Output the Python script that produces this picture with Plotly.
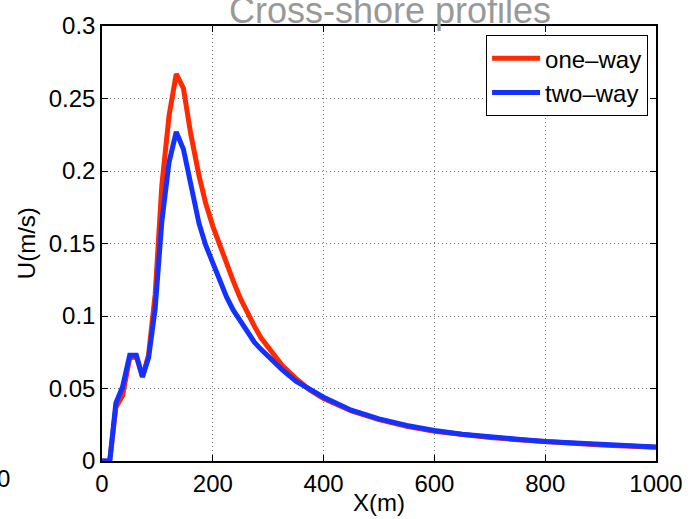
import plotly.graph_objects as go

# Cross-shore distance (m)
x_m = [0, 14, 25, 37, 50, 62, 73, 84, 96, 108, 121, 134, 147, 160, 175, 187,
       200, 212, 225, 237, 250, 262, 275, 287, 300, 325, 350, 375, 400, 450,
       500, 550, 600, 650, 700, 750, 800, 900, 1000]

# Velocity U (m/s), one-way coupling
u_one_way = [0, 0, 0.037, 0.045, 0.071, 0.072, 0.058, 0.073, 0.115, 0.190,
             0.238, 0.267, 0.257, 0.226, 0.197, 0.178, 0.162, 0.149, 0.136,
             0.124, 0.112, 0.102, 0.093, 0.085, 0.078, 0.066, 0.057, 0.049,
             0.043, 0.0345, 0.0285, 0.024, 0.0205, 0.018, 0.0162, 0.0147,
             0.0132, 0.011, 0.0094]

# Velocity U (m/s), two-way coupling
u_two_way = [0, 0, 0.040, 0.051, 0.073, 0.073, 0.058, 0.071, 0.105, 0.165,
             0.206, 0.227, 0.215, 0.190, 0.164, 0.149, 0.136, 0.124, 0.113,
             0.104, 0.096, 0.089, 0.082, 0.077, 0.072, 0.063, 0.055, 0.049,
             0.044, 0.035, 0.029, 0.0245, 0.021, 0.0185, 0.0165, 0.015,
             0.0135, 0.0113, 0.0097]

x_ticks = [0, 200, 400, 600, 800, 1000]
y_ticks = [0, 0.05, 0.1, 0.15, 0.2, 0.25, 0.3]
y_tick_labels = ["0", "0.05", "0.1", "0.15", "0.2", "0.25", "0.3"]

FONT = "Liberation Sans, Arial, Helvetica, sans-serif"

fig = go.Figure()
fig.add_trace(go.Scatter(x=x_m, y=u_one_way, mode="lines", name="one\u2013way",
                         line=dict(color="#ff2a00", width=5)))
fig.add_trace(go.Scatter(x=x_m, y=u_two_way, mode="lines", name="two\u2013way",
                         line=dict(color="#1432ff", width=5)))

axis_common = dict(
    showline=True, linecolor="black", linewidth=1.5, mirror="ticks",
    ticks="inside", ticklen=6, tickcolor="black", tickwidth=1,
    showgrid=True, gridcolor="#777", gridwidth=1, griddash="1px,3px",
    zeroline=False, tickfont=dict(family=FONT, size=24, color="black"),
)

fig.update_xaxes(range=[0, 1000], tickvals=x_ticks, **axis_common)
fig.update_yaxes(range=[0, 0.3], tickvals=y_ticks, ticktext=y_tick_labels,
                 **axis_common)

annotations = [
    dict(text="Cross-shore profiles", x=0.519, y=1.0365, xref="paper",
         yref="paper", xanchor="center", yanchor="middle", showarrow=False,
         font=dict(family=FONT, size=36, color="#999999")),
    dict(text="X(m)", x=0.5, y=-0.096, xref="paper", yref="paper",
         xanchor="center", yanchor="middle", showarrow=False,
         font=dict(family=FONT, size=24, color="black")),
    dict(text="U(m/s)", x=-0.136, y=0.5, xref="paper", yref="paper",
         xanchor="center", yanchor="middle", textangle=-90, showarrow=False,
         font=dict(family=FONT, size=24, color="black")),
    dict(text="0", x=-0.177, y=-0.041, xref="paper", yref="paper",
         xanchor="center", yanchor="middle", showarrow=False,
         font=dict(family=FONT, size=24, color="black")),
]

fig.update_layout(
    width=695, height=519,
    margin=dict(l=102, r=34, t=23, b=58),
    paper_bgcolor="white", plot_bgcolor="white",
    showlegend=True,
    legend=dict(x=0.9857, y=0.979, xanchor="right", yanchor="top",
                bgcolor="white", bordercolor="black", borderwidth=1,
                font=dict(family=FONT, size=24, color="black"),
                itemwidth=48, tracegroupgap=0),
    annotations=annotations,
)

fig.write_html("out.html")
